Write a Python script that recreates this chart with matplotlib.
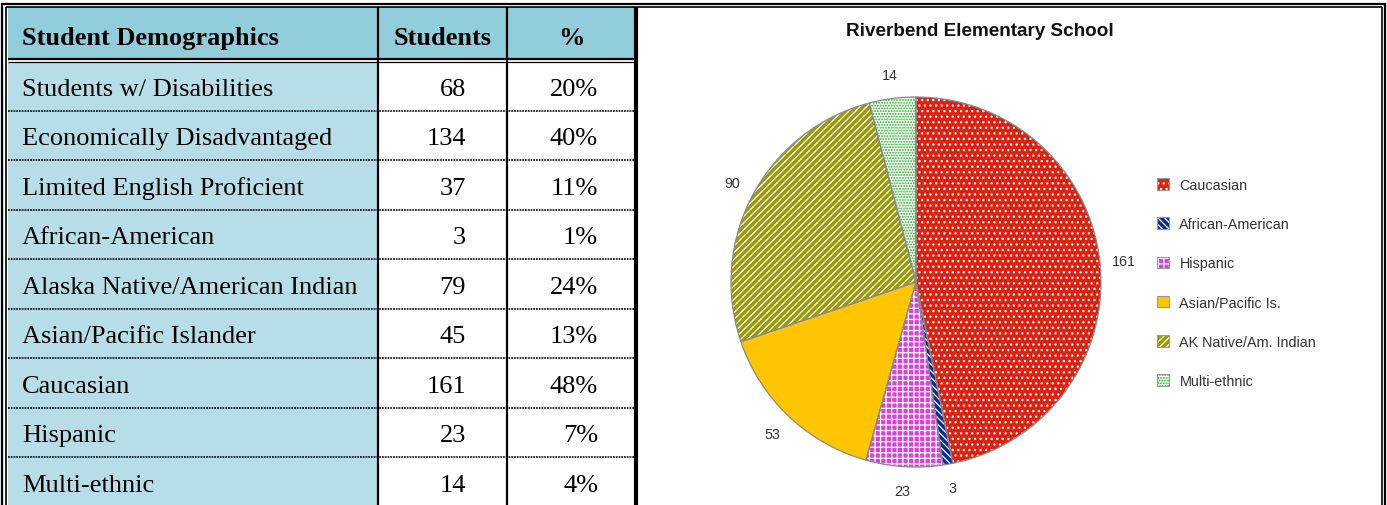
import matplotlib
matplotlib.use("Agg")
import matplotlib.pyplot as plt
import matplotlib.patches as mpatches
from matplotlib.legend_handler import HandlerTuple

# ---------------- data ----------------
table_header = ["Student Demographics", "Students", "%"]
categories = ["Students w/ Disabilities", "Economically Disadvantaged",
              "Limited English Proficient", "African-American",
              "Alaska Native/American Indian", "Asian/Pacific Islander",
              "Caucasian", "Hispanic", "Multi-ethnic"]
students = [68, 134, 37, 3, 79, 45, 161, 23, 14]
percents = [20, 40, 11, 1, 24, 13, 48, 7, 4]

pie_title = "Riverbend Elementary School"
pie_labels = ["Caucasian", "African-American", "Hispanic",
              "Asian/Pacific Is.", "AK Native/Am. Indian", "Multi-ethnic"]
pie_values = [161, 3, 23, 53, 90, 14]

# ---------------- styles ----------------
pie_colors = ["#DD2211", "#0B2A96", "#DD3FDD", "#FFC600", "#9A9A08", "#F4FFF4"]
hatch_colors = ["#FFFFFF", "#FFFFFF", "#FFFFFF", "#FFC600", "#FFFFFF", "#2FA82F"]
hatches = ["...", "\\\\\\\\\\", "+++", "", "/////", "......"]
plt.rcParams["hatch.linewidth"] = 0.9

W, H = 1387, 506
fig = plt.figure(figsize=(W / 100, H / 100), dpi=100)
ax = fig.add_axes([0, 0, 1, 1])
ax.set_xlim(0, W)
ax.set_ylim(H, 0)
ax.axis("off")

serif = "Liberation Serif"
sans = "Liberation Sans"
FS = 19

# geometry
x_in, x_c1, x_c2, x_c3 = 8, 378, 507, 636
hdr_top, hdr_bot = 8, 60
row0 = 63
row_h = 49.5

# fills
ax.add_patch(mpatches.Rectangle((x_in, hdr_top), x_c3 - x_in, hdr_bot - hdr_top,
                                facecolor="#92CDDC", edgecolor="none"))
ax.add_patch(mpatches.Rectangle((x_in, row0), x_c1 - x_in, H - row0,
                                facecolor="#B7DEE8", edgecolor="none"))

# outer borders (double)
ax.plot([2, W - 2], [4.5, 4.5], color="black", lw=1.6, solid_capstyle="butt")
ax.plot([6, W - 5.5], [7.8, 7.8], color="black", lw=1.2, solid_capstyle="butt")
ax.plot([2, 2], [4, H], color="black", lw=1.6, solid_capstyle="butt")
ax.plot([6, 6], [7.5, H], color="black", lw=1.2, solid_capstyle="butt")
ax.plot([W - 2, W - 2], [4, H], color="black", lw=1.6, solid_capstyle="butt")
ax.plot([W - 5.5, W - 5.5], [7.5, H], color="black", lw=1.2, solid_capstyle="butt")

# header bottom double line
ax.plot([x_in, x_c3], [60.3, 60.3], color="black", lw=1.6, solid_capstyle="butt")
ax.plot([x_in, x_c3], [62.8, 62.8], color="black", lw=0.9, solid_capstyle="butt")

# column lines
ax.plot([x_c1, x_c1], [hdr_top, H], color="black", lw=1.6, solid_capstyle="butt")
ax.plot([x_c2, x_c2], [hdr_top, H], color="black", lw=1.6, solid_capstyle="butt")
ax.plot([x_c3 - 0.5, x_c3 - 0.5], [hdr_top, H], color="black", lw=3.0, solid_capstyle="butt")

# header text
ty = 36 + 2
ax.text(22, ty, table_header[0], family=serif, weight="bold", fontsize=FS,
        ha="left", va="center")
ax.text((x_c1 + x_c2) / 2, ty, table_header[1], family=serif, weight="bold",
        fontsize=FS, ha="center", va="center")
ax.text((x_c2 + x_c3) / 2, ty, table_header[2], family=serif, weight="bold",
        fontsize=FS, ha="center", va="center")

# rows
for i, (cat, n, p) in enumerate(zip(categories, students, percents)):
    yc = row0 + row_h * i + row_h / 2 + 2.0
    ax.text(22, yc, cat, family=serif, fontsize=FS, ha="left", va="center")
    ax.text(466, yc, f"{n}", family=serif, fontsize=FS, ha="right", va="center")
    ax.text(598, yc, f"{p}%", family=serif, fontsize=FS, ha="right", va="center")
    if i < len(categories) - 1:
        yl = row0 + row_h * (i + 1) - 1
        ax.plot([x_in, x_c3 - 2], [yl, yl], color="black", lw=1.1,
                linestyle=(0, (1.2, 0.6)))

# ---------------- pie ----------------
cx, cy, r = 916, 283, 185
pax = fig.add_axes([(cx - r) / W, (H - cy - r) / H, 2 * r / W, 2 * r / H])
wedges, texts = pax.pie(pie_values, startangle=90, counterclock=False,
                        colors=pie_colors, hatch=hatches,
                        labels=[str(v) for v in pie_values], labeldistance=1.13,
                        wedgeprops=dict(linewidth=0),
                        textprops=dict(family=sans, fontsize=10.3, color="#333333"))
for t in texts:
    t.set_horizontalalignment("center")
    t.set_verticalalignment("center")
for w, hc in zip(wedges, hatch_colors):
    w.set_edgecolor(hc)
    w.set_linewidth(0)
outl, _ = pax.pie(pie_values, startangle=90, counterclock=False,
                  wedgeprops=dict(fill=False, edgecolor="#8A8A8A", linewidth=0.9))
pax.set_xlim(-1.0, 1.0)
pax.set_ylim(-1.0, 1.0)
pax.set_aspect("equal")
pax.axis("off")

ax.text(980, 31, pie_title, family=sans, weight="bold", fontsize=13.6,
        ha="center", va="center", color="#111111")

handles = []
for c, hc, h in zip(pie_colors, hatch_colors, hatches):
    fillp = mpatches.Patch(facecolor=c, edgecolor=hc, hatch=h, linewidth=0)
    edgep = mpatches.Patch(facecolor="none", edgecolor="#999999", linewidth=0.8)
    handles.append((fillp, edgep))
fig.legend(handles, pie_labels, loc="center left",
           handler_map={tuple: HandlerTuple(ndivide=1, pad=0)},
           bbox_to_anchor=(1157 / W, (H - 284) / H), frameon=False,
           prop=dict(family=sans, size=10.4), labelcolor="#333333",
           handlelength=0.85, handleheight=0.85, handletextpad=0.7,
           labelspacing=1.75, borderaxespad=0, borderpad=0)

fig.savefig("out.png", dpi=100)
